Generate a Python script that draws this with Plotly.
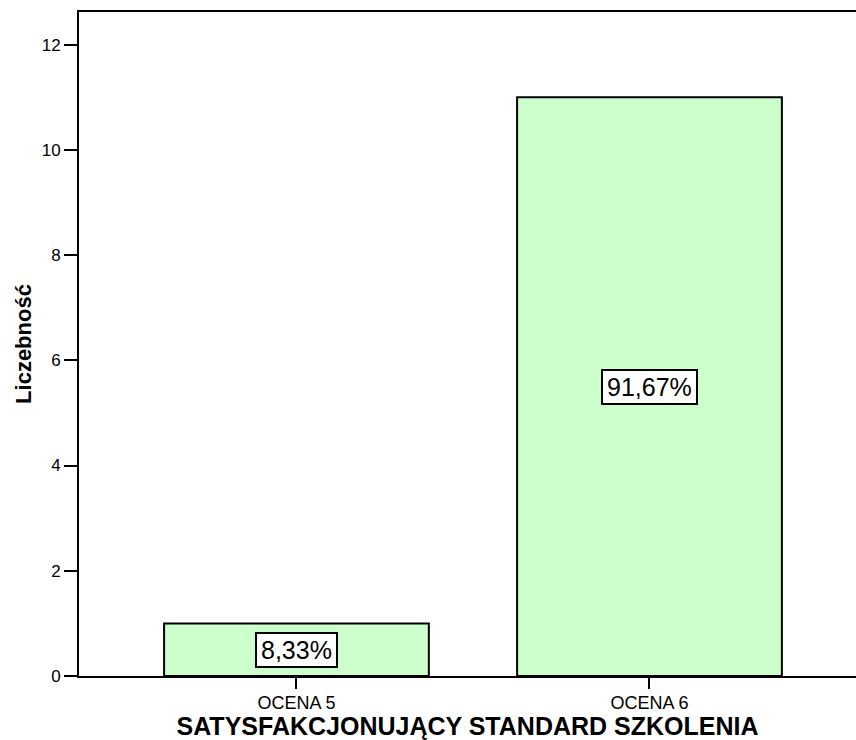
import plotly.graph_objects as go

# Dane wykresu
categories = ["OCENA 5", "OCENA 6"]
counts = [1, 11]
percent_labels = ["8,33%", "91,67%"]
y_ticks = [0, 2, 4, 6, 8, 10, 12]

fig = go.Figure()
fig.add_trace(go.Bar(
    x=[0, 1],
    y=counts,
    width=0.75,
    marker=dict(color="#ccffcc", line=dict(color="black", width=2)),
    hoverinfo="skip",
))

# Etykiety procentowe w białych ramkach, w połowie wysokości słupków
for i, (c, lab) in enumerate(zip(counts, percent_labels)):
    fig.add_annotation(
        x=i, y=c / 2, text=lab, showarrow=False,
        font=dict(family="Liberation Sans, Arial", size=25, color="black"),
        bgcolor="white", bordercolor="black", borderwidth=2, borderpad=4,
        height=24,
    )

fig.update_layout(
    width=856, height=740,
    margin=dict(l=79, r=0, t=12, b=64),
    plot_bgcolor="white", paper_bgcolor="white",
    showlegend=False,
    font=dict(family="Liberation Sans, Arial", color="black"),
)
fig.update_xaxes(
    range=[-0.616, 1.585],
    tickmode="array", tickvals=[0, 1], ticktext=categories,
    ticks="outside", ticklen=11, tickwidth=2, tickcolor="black",
    tickfont=dict(size=18), ticklabelstandoff=-2,
    showline=True, linecolor="black", linewidth=2, mirror=True,
    showgrid=False, zeroline=False,
    title=dict(text="<b>SATYSFAKCJONUJĄCY STANDARD SZKOLENIA</b>",
               font=dict(size=25), standoff=2),
)
fig.update_yaxes(
    range=[0, 12.62],
    tickmode="array", tickvals=y_ticks,
    ticks="outside", ticklen=13, tickwidth=2, tickcolor="black",
    tickfont=dict(size=17),
    showline=True, linecolor="black", linewidth=2,
    showgrid=False, zeroline=False,
    title=dict(text="<b>Liczebność</b>", font=dict(size=22), standoff=4),
)

fig.write_html("out.html")
